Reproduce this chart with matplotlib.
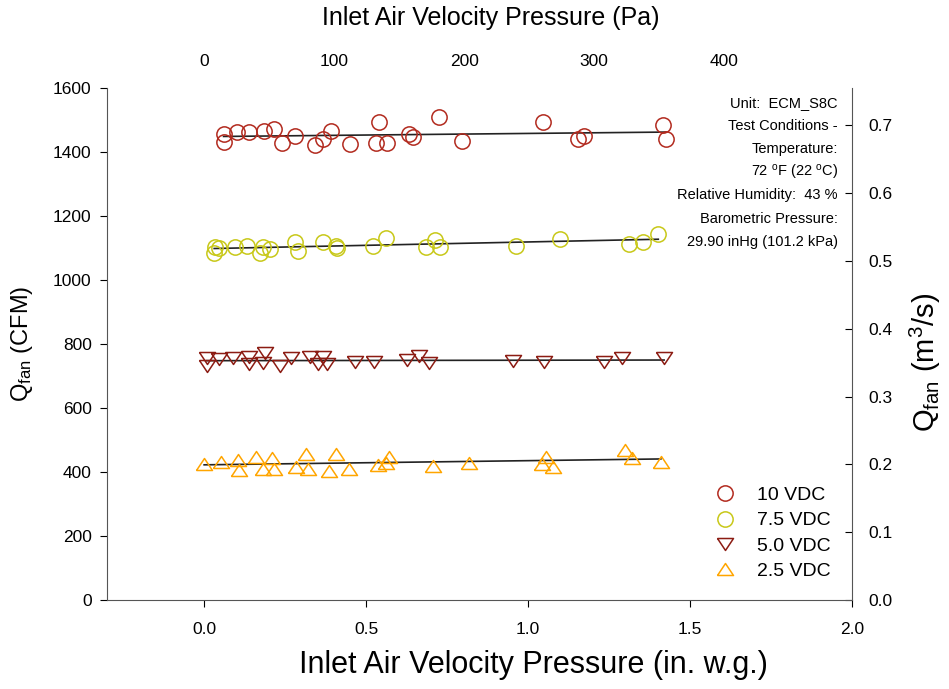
import matplotlib
matplotlib.use("Agg")
import matplotlib.pyplot as plt
import numpy as np

plt.rcParams["font.family"] = ["Liberation Sans", "DejaVu Sans"]
plt.rcParams["mathtext.fontset"] = "custom"
plt.rcParams["mathtext.rm"] = "Liberation Sans"
plt.rcParams["mathtext.it"] = "Liberation Sans:italic"

# inlet velocity pressure (in. w.g.) and fan flow (CFM) per control voltage
x_10 = [0.060, 0.062, 0.101, 0.139, 0.185, 0.216, 0.241, 0.281, 0.343, 0.368, 0.392, 0.451,
        0.531, 0.541, 0.566, 0.633, 0.646, 0.726, 0.797, 1.047, 1.154, 1.173, 1.415, 1.425]
q_10 = [1455, 1432, 1463, 1463, 1466, 1471, 1427, 1450, 1422, 1441, 1466, 1424,
        1427, 1495, 1427, 1456, 1448, 1510, 1434, 1493, 1440, 1451, 1484, 1441]

x_75 = [0.031, 0.034, 0.047, 0.096, 0.132, 0.171, 0.183, 0.202, 0.279, 0.291, 0.368, 0.407,
        0.410, 0.521, 0.562, 0.685, 0.713, 0.728, 0.964, 1.099, 1.313, 1.356, 1.402]
q_75 = [1083, 1104, 1101, 1104, 1107, 1084, 1104, 1096, 1120, 1091, 1120, 1107,
        1101, 1107, 1130, 1104, 1126, 1103, 1107, 1128, 1112, 1119, 1143]

x_50 = [0.008, 0.008, 0.047, 0.090, 0.137, 0.137, 0.188, 0.183, 0.235, 0.268, 0.327, 0.353,
        0.368, 0.379, 0.466, 0.525, 0.626, 0.664, 0.695, 0.955, 1.050, 1.235, 1.289, 1.420]
q_50 = [755, 731, 752, 755, 758, 737, 771, 742, 731, 755, 758, 737,
        758, 737, 745, 745, 750, 762, 740, 747, 743, 743, 757, 755]

x_25 = [0.000, 0.052, 0.106, 0.109, 0.160, 0.183, 0.211, 0.216, 0.283, 0.315, 0.322, 0.384,
        0.406, 0.448, 0.536, 0.560, 0.571, 0.705, 0.818, 1.044, 1.055, 1.078, 1.299, 1.322, 1.410]
q_25 = [424, 432, 438, 406, 446, 408, 444, 408, 417, 456, 408, 404,
        456, 408, 422, 429, 448, 419, 429, 425, 448, 417, 469, 443, 432]

labels = ["10 VDC", "7.5 VDC", "5.0 VDC", "2.5 VDC"]
notes = [
    "Unit:  ECM_S8C",
    "Test Conditions -",
    "Temperature:",
    r"72 $^{\mathrm{o}}$F (22 $^{\mathrm{o}}$C)",
    "Relative Humidity:  43 %",
    "Barometric Pressure:",
    "29.90 inHg (101.2 kPa)",
]

PA_PER_INWG = 249.09
M3S_PER_CFM = 0.000471947

# flat triangles, wider than tall
TRI_DOWN = [(-1, 0.75), (1, 0.75), (0, -0.75), (-1, 0.75)]
TRI_UP = [(-1, -0.75), (1, -0.75), (0, 0.75), (-1, -0.75)]

series = [
    (x_10, q_10, "o", 11, "#B22A1E"),
    (x_75, q_75, "o", 11, "#C8C818"),
    (x_50, q_50, TRI_DOWN, 11.5, "#8C1C13"),
    (x_25, q_25, TRI_UP, 11.5, "#FFA500"),
]

fig = plt.figure(figsize=(9.49, 6.89), dpi=100)
ax = fig.add_axes([0.1127, 0.1292, 0.7851, 0.7431])

for (xs, ys, mk, ms, col), lab in zip(series, labels):
    xs = np.asarray(xs)
    ys = np.asarray(ys)
    ax.plot(xs, ys, linestyle="none", marker=mk, markersize=ms, markerfacecolor="none",
            markeredgecolor=col, markeredgewidth=1.1, label=lab, zorder=3)
    b, a = np.polyfit(xs, ys, 1)
    xf = np.array([xs.min(), xs.max()])
    ax.plot(xf, a + b * xf, color="#222222", linewidth=1.2, zorder=2)

ax.set_xlim(-0.3, 2.0)
ax.set_ylim(0, 1600)
ax.set_xticks([0.0, 0.5, 1.0, 1.5, 2.0])
ax.set_xticklabels(["0.0", "0.5", "1.0", "1.5", "2.0"])
ax.set_yticks(range(0, 1601, 200))
ax.tick_params(axis="both", direction="out", length=5, width=0.8, labelsize=12.5)
ax.tick_params(axis="x", pad=11)
ax.tick_params(axis="y", pad=6)
ax.spines["top"].set_visible(False)
ax.spines["right"].set_visible(False)
for s in ["left", "bottom"]:
    ax.spines[s].set_color("#555555")

ax.set_xlabel("Inlet Air Velocity Pressure (in. w.g.)", fontsize=22)
ax.set_ylabel(r"Q$_{\mathrm{fan}}$ (CFM)", fontsize=17)
ax.xaxis.set_label_coords(0.572, -0.127)
ax.xaxis.label.set_va("center")
ax.yaxis.set_label_coords(-0.114, 0.5)
ax.yaxis.label.set_va("center")

top = ax.secondary_xaxis("top", functions=(lambda v: v * PA_PER_INWG, lambda p: p / PA_PER_INWG))
top.set_xticks([0, 100, 200, 300, 400])
top.tick_params(length=0, labelsize=12.5, pad=14)
top.spines["top"].set_visible(False)
top.set_xlabel("Inlet Air Velocity Pressure (Pa)", fontsize=18)
top.xaxis.set_label_coords(0.515, 1.137, transform=ax.transAxes)
top.xaxis.label.set_va("center")

right = ax.secondary_yaxis("right", functions=(lambda v: v * M3S_PER_CFM, lambda m: m / M3S_PER_CFM))
right.set_yticks([0.0, 0.1, 0.2, 0.3, 0.4, 0.5, 0.6, 0.7])
right.set_yticklabels(["0.0", "0.1", "0.2", "0.3", "0.4", "0.5", "0.6", "0.7"])
right.tick_params(direction="in", length=5, width=0.8, labelsize=12.5, pad=12)
right.spines["right"].set_color("#555555")
right.set_ylabel(r"Q$_{\mathrm{fan}}$ (m$^3$/s)", fontsize=21)
right.yaxis.set_label_coords(1.099, 0.465, transform=ax.transAxes)
right.yaxis.label.set_va("center")

for i, line in enumerate(notes):
    ax.text(0.981, 0.971 - i * 0.0452, line, transform=ax.transAxes, ha="right", va="center",
            fontsize=10.5)

ax.legend(loc="lower right", bbox_to_anchor=(0.99, 0.012), frameon=False, fontsize=14,
          handletextpad=0.9, labelspacing=0.4, borderaxespad=0.3, handlelength=1.5)

fig.savefig("out.png", dpi=100)
